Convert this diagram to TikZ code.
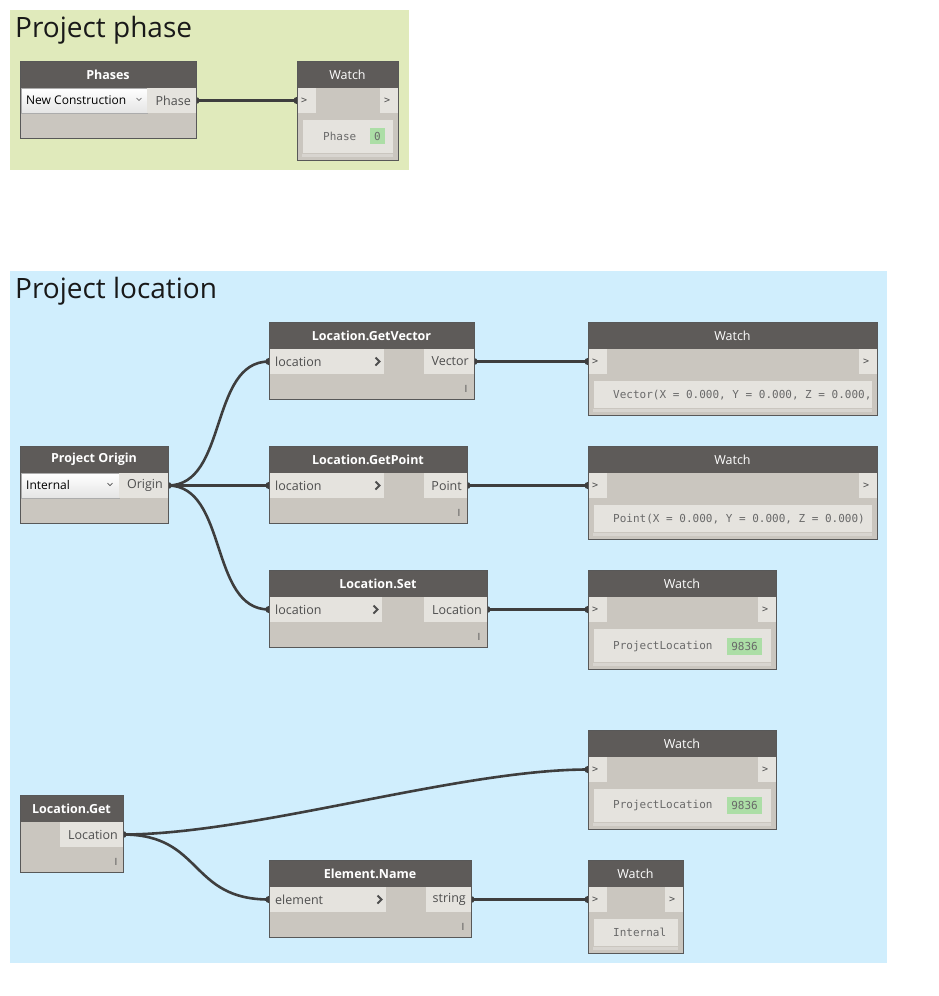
\documentclass[tikz,border=0pt]{standalone}
\usepackage{fontspec}
\setmainfont{Open Sans}
\newfontfamily\monof{DejaVu Sans Mono}
\usetikzlibrary{calc}
\pgfdeclarelayer{back}
\pgfdeclarelayer{conn}
\pgfsetlayers{back,conn,main}
\definecolor{hdr}{RGB}{94,91,89}
\definecolor{bodyc}{RGB}{202,198,191}
\definecolor{portc}{RGB}{229,227,222}
\definecolor{bordc}{RGB}{88,88,88}
\definecolor{txtc}{RGB}{78,78,78}
\definecolor{monoc}{RGB}{105,105,105}
\definecolor{valc}{RGB}{172,222,166}
\definecolor{wire}{RGB}{62,62,62}
\definecolor{grpg}{RGB}{224,234,187}
\definecolor{grpb}{RGB}{208,238,253}
\definecolor{stripc}{RGB}{216,213,208}
\definecolor{ddb}{RGB}{172,172,172}
\definecolor{ddc}{RGB}{229,229,229}
\tikzset{
  box/.style={draw=none, inner sep=0pt, outer sep=0pt, anchor=north west},
  nbody/.style={box, fill=bodyc},
  nhead/.style={box, fill=hdr, text=white, minimum height=27, font=\fontsize{12.5}{14}\selectfont\bfseries},
  whead/.style={box, fill=hdr, text=white, minimum height=27, font=\fontsize{12.5}{14}\selectfont},
  port/.style={box, fill=portc, minimum height=25},
  disp/.style={box, fill=portc},
  ptext/.style={inner sep=0pt, text=txtc, font=\fontsize{12.5}{14}\selectfont},
  mono/.style={inner sep=0pt, text=monoc, font=\monof\fontsize{11}{13}\selectfont},
  gt/.style={inner sep=0pt, text=txtc, font=\monof\fontsize{10}{12}\selectfont},
  val/.style={box, fill=valc, text=monoc, font=\monof\fontsize{11}{13}\selectfont},
  imark/.style={inner sep=0pt, text=txtc, font=\fontsize{10}{11}\selectfont},
  dd/.style={box, draw=ddb, line width=0.8pt, top color=white, bottom color=ddc, minimum height=25},
  ddtext/.style={inner sep=0pt, text=black, font=\fontsize{12}{14}\selectfont},
  chev/.style={draw=txtc, line width=1.8pt},
  ddchev/.style={draw=txtc, line width=0.7pt},
  title/.style={inner sep=0pt, text=black!90, font=\fontsize{28}{32}\selectfont},
  wirec/.style={draw=wire, line width=2.6pt},
  dot/.style={fill=wire},
}
\newcommand\fnode[5]{%
  \node[nbody, minimum width=#4, minimum height=77] (#1) at (#2,#3) {};
  \node[nhead, minimum width=#4] (#1-t) at (#2,#3) {#5};
}
\newcommand\inport[5]{%
  \node[port, minimum width=#4] (#1) at (#2,#3) {};
  \node[ptext, anchor=west, xshift=6pt] (#1-l) at (#1.west) {#5};
  \draw[chev] ($(#1.east)+(-8.5,-4)$) -- ++(4,4) -- ++(-4,4);
}
\newcommand\outport[5]{%
  \node[port, minimum width=#4] (#1) at (#2,#3) {};
  \node[ptext, anchor=east, xshift=-5pt] (#1-l) at (#1.east) {#5};
}
\newcommand\wnode[6]{%
  \node[nbody, minimum width=#4, minimum height=#5] (#1) at (#2,#3) {};
  \node[whead, minimum width=#4] (#1-t) at (#2,#3) {Watch};
  \node[port, minimum width=19] (#1-in) at (#2,#3+27) {};
  \node[port, minimum width=18] (#1-out) at (#2+#4-18,#3+27) {};
  \node[gt, anchor=west, xshift=4pt] (#1-ga) at (#1-in.west) {>};
  \node[gt, anchor=west, xshift=4pt] (#1-gb) at (#1-out.west) {>};
  \node[disp, minimum width=#4-11, minimum height=#6] (#1-d) at (#2+6,#3+59) {};
  \fill[stripc] (#2+5,#3+60+#6) rectangle (#2+#4-5,#3+63+#6);
}
\begin{document}
\begin{tikzpicture}[x=1pt,y=-1pt]
\useasboundingbox (0,0) rectangle (938,996);
\begin{pgfonlayer}{back}
\fill[white] (0,0) rectangle (938,996);
\fill[grpg] (10,10) rectangle (409,170);
\fill[grpb] (10,271) rectangle (887,963);
\end{pgfonlayer}
\node[title, anchor=base west] (t1) at (15,37) {Project phase};
\node[title, anchor=base west] (t2) at (15,298) {Project location};

% Phases
\node[nbody, minimum width=176, minimum height=77] (ph) at (20,61) {};
\node[nhead, minimum width=176] (ph-t) at (20,61) {Phases};
\node[dd, minimum width=126] (ph-dd) at (21,88) {};
\node[ddtext, anchor=west] (ph-ddt) at (26,100) {New Construction};
\draw[ddchev] (136.5,98) -- (139,100.5) -- (141.5,98);
\outport{ph-out}{147}{88}{49}{Phase}

\wnode{w1}{297}{61}{101}{99}{33}
\node[mono, anchor=west] (w1-v) at (323,136) {Phase};
\node[val, minimum width=15, minimum height=16] (w1-x) at (370,128) {0};

% Project Origin
\node[nbody, minimum width=148, minimum height=77] (po) at (20,446) {};
\node[nhead, minimum width=148] (po-t) at (20,446) {Project Origin};
\node[dd, minimum width=98] (po-dd) at (21,473) {};
\node[ddtext, anchor=west] (po-ddt) at (26,485) {Internal};
\draw[ddchev] (107.5,483) -- (110,485.5) -- (112.5,483);
\outport{po-out}{119}{473}{49}{Origin}

% GetVector
\fnode{gv}{269}{322}{205}{Location.GetVector}
\inport{gv-in}{269}{349}{115}{location}
\outport{gv-out}{424}{349}{50}{Vector}
\node[imark] (gv-i) at (466,389) {I};

% GetPoint
\fnode{gp}{269}{446}{198}{Location.GetPoint}
\inport{gp-in}{269}{473}{115}{location}
\outport{gp-out}{424}{473}{43}{Point}
\node[imark] (gp-i) at (459,513) {I};

% Set
\fnode{ls}{269}{570}{218}{Location.Set}
\inport{ls-in}{269}{597}{113}{location}
\outport{ls-out}{424}{597}{63}{Location}
\node[imark] (ls-i) at (479,637) {I};

% Watches
\wnode{wv}{588}{322}{289}{93}{27}
\node[mono, anchor=west] (wv-v) at (613,395) {Vector(X = 0.000, Y = 0.000, Z = 0.000,};
\wnode{wp}{588}{446}{289}{93}{27}
\node[mono, anchor=west] (wp-v) at (613,519) {Point(X = 0.000, Y = 0.000, Z = 0.000)};
\wnode{w3}{588}{570}{188}{99}{33}
\node[mono, anchor=west] (w3-v) at (613,646) {ProjectLocation};
\node[val, minimum width=35, minimum height=17] (w3-x) at (727,638) {9836};
\wnode{w4}{588}{730}{188}{99}{33}
\node[mono, anchor=west] (w4-v) at (613,805) {ProjectLocation};
\node[val, minimum width=35, minimum height=17] (w4-x) at (727,797) {9836};
\wnode{w5}{588}{860}{95}{93}{27}
\node[mono, anchor=west] (w5-v) at (613,932.5) {Internal};

% Location.Get
\node[nbody, minimum width=103, minimum height=77] (lg) at (20,795) {};
\node[nhead, minimum width=103] (lg-t) at (20,795) {Location.Get};
\outport{lg-out}{60}{822}{63}{Location}
\node[imark] (lg-i) at (116,862) {I};

% Element.Name
\fnode{en}{269}{860}{202}{Element.Name}
\inport{en-in}{269}{887}{117}{element}
\outport{en-out}{426}{887}{45}{string}
\node[imark] (en-i) at (463,927) {I};

\foreach \n in {ph,w1,po,gv,gp,ls,wv,wp,w3,w4,w5,lg,en}
  \draw[bordc, line width=1pt] (\n.north west) rectangle (\n.south east);

\begin{pgfonlayer}{conn}
\draw[wirec] (ph-out.east) -- (w1-in.west);
\draw[wirec] (po-out.east) .. controls +(60,0) and +(-60,0) .. (gv-in.west);
\draw[wirec] (po-out.east) -- (gp-in.west);
\draw[wirec] (po-out.east) .. controls +(60,0) and +(-60,0) .. (ls-in.west);
\draw[wirec] (gv-out.east) -- (wv-in.west);
\draw[wirec] (gp-out.east) -- (wp-in.west);
\draw[wirec] (ls-out.east) -- (w3-in.west);
\draw[wirec] (lg-out.east) .. controls +(130,0) and +(-130,0) .. (w4-in.west);
\draw[wirec] (lg-out.east) .. controls +(80,0) and +(-80,0) .. (en-in.west);
\draw[wirec] (en-out.east) -- (w5-in.west);
\foreach \p in {ph-out.east,w1-in.west,po-out.east,gv-in.west,gp-in.west,ls-in.west,gv-out.east,wv-in.west,gp-out.east,wp-in.west,ls-out.east,w3-in.west,lg-out.east,w4-in.west,en-in.west,en-out.east,w5-in.west}
  \fill[dot] (\p) circle (3.6pt);
\end{pgfonlayer}
\end{tikzpicture}
\end{document}
